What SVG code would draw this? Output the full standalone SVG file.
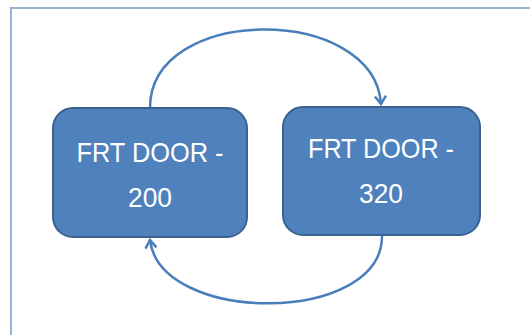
<svg xmlns="http://www.w3.org/2000/svg" width="530" height="335" viewBox="0 0 530 335">
<style>
.box{fill:#4f81bd;stroke:#3a6190;stroke-width:2}
.lbl{font-family:"Liberation Sans",Arial,sans-serif;font-size:28px;fill:#ffffff;text-anchor:middle}
.conn{fill:none;stroke:#4a7ebb;stroke-width:2.5}
</style>
<defs>
<marker id="arr" markerUnits="userSpaceOnUse" markerWidth="20" markerHeight="20" refX="10" refY="10" orient="auto" viewBox="0 0 20 20">
<path d="M2,4.5 L10,10 L2,15.5" fill="none" stroke="#4a7ebb" stroke-width="2.5" stroke-linejoin="miter"/>
</marker>
</defs>
<rect width="530" height="335" fill="#ffffff"/>
<path d="M11,335 V8 H530" fill="none" stroke="#95b3d7" stroke-width="2"/>
<g id="connectors">
<path class="conn" d="M150,108 C150,4 374,4 381,104" marker-end="url(#arr)"/>
<path class="conn" d="M382,236 C382,325 160,325 150,240" marker-end="url(#arr)"/>
</g>
<g id="node1">
<rect class="box" x="53" y="108" width="194" height="129" rx="20"/>
<text class="lbl" x="150" y="162" textLength="147" lengthAdjust="spacingAndGlyphs">FRT DOOR -</text>
<text class="lbl" x="150" y="207" textLength="44" lengthAdjust="spacingAndGlyphs">200</text>
</g>
<g id="node2">
<rect class="box" x="283" y="107" width="197" height="128" rx="20"/>
<text class="lbl" x="381" y="158" textLength="146" lengthAdjust="spacingAndGlyphs">FRT DOOR -</text>
<text class="lbl" x="381" y="203" textLength="44" lengthAdjust="spacingAndGlyphs">320</text>
</g>
</svg>
